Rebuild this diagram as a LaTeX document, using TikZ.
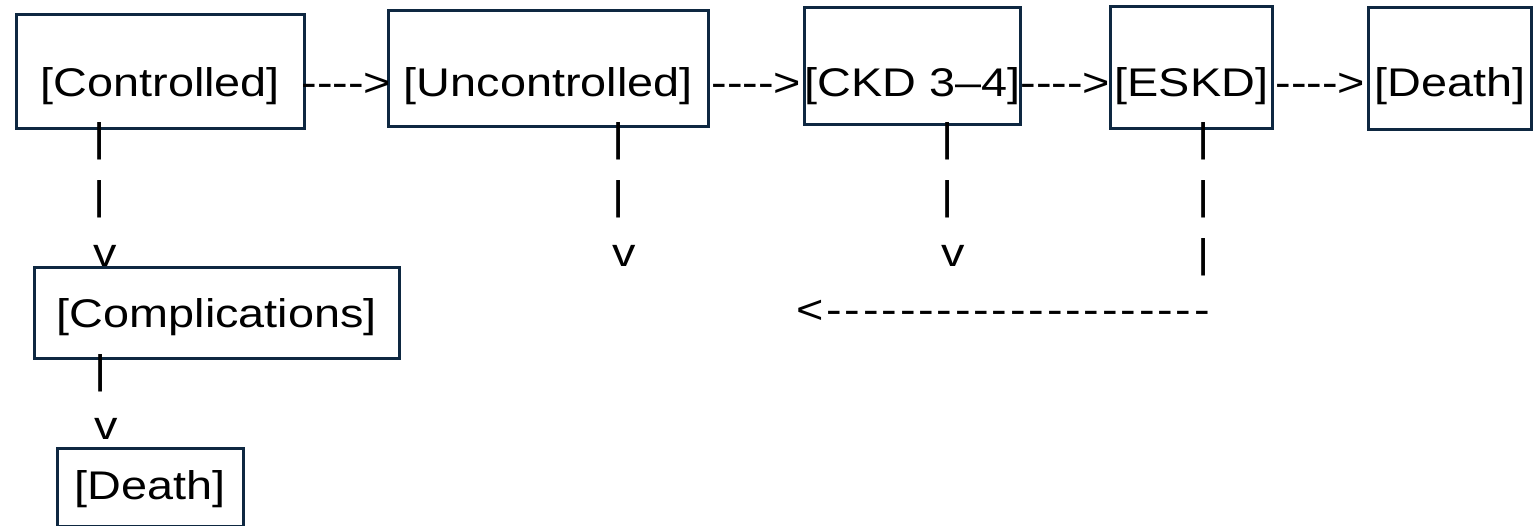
\documentclass[tikz,border=0pt]{standalone}
\usepackage{fontspec}
\setmainfont{Liberation Sans}[FakeStretch=1.17]
\usetikzlibrary{calc}
\definecolor{boxnavy}{RGB}{14,40,65}

\begin{document}
\begin{tikzpicture}[x=1pt,y=-1pt,
        stage/.style={draw=boxnavy, line width=2.7pt, inner xsep=0pt, inner ysep=0pt,
                      anchor=north west, font=\fontsize{40}{48}\selectfont},
        glyph/.style={inner sep=0pt, font=\fontsize{40}{48}\selectfont}]
        \useasboundingbox (0,0) rectangle (1540,526);
        % stages
        \node[stage, minimum width=288, text height=82, text depth=32] (ctrl) at (15,13) {[Controlled]};
        \node[stage, minimum width=320, text height=86, text depth=30] (unctrl) at (387,9) {[Uncontrolled]};
        \node[stage, minimum width=213, text height=89, text depth=28] (ckd) at (803,6) {[CKD 3--4]};
        \node[stage, minimum width=162, text height=90, text depth=32] (eskd) at (1109,5) {[ESKD]};
        \node[stage, minimum width=163, text height=89, text depth=33] (deathA) at (1367,6) {[Death]};
        \node[stage, minimum width=365, text height=60, text depth=31] (compl) at (33,266) {[Complications]};
        \node[stage, minimum width=186, text height=51, text depth=27] (deathB) at (56,447) {[Death]};
        % text arrows along the top row
        \node[glyph, anchor=base] (ar1) at ($(ctrl.base -| ctrl.east)!.5!(ctrl.base -| unctrl.west)$) {-{}-{}-{}->};
        \node[glyph, anchor=base] (ar2) at ($(ctrl.base -| unctrl.east)!.5!(ctrl.base -| ckd.west)$) {-{}-{}-{}->};
        \node[glyph, anchor=base] (ar3) at ($(ctrl.base -| ckd.east)!.5!(ctrl.base -| eskd.west)$) {-{}-{}-{}->};
        \node[glyph, anchor=base] (ar4) at ($(ctrl.base -| eskd.east)!.5!(ctrl.base -| deathA.west)$) {-{}-{}-{}->};
        % text arrows going down
        \foreach \cx/\nm in {93/cA, 612/cB, 941/cC} {
          \node[glyph, anchor=base west] (\nm bar1) at (\cx,152) {|};
          \node[glyph, anchor=base west] (\nm bar2) at (\cx,210) {|};
          \node[glyph, anchor=base west] (\nm tip) at (\cx,267) {v};
        }
        \foreach \cy/\nm in {152/eA, 210/eB, 268/eC}
          \node[glyph, anchor=base west] (\nm bar) at (1197,\cy) {|};
        \node[glyph, anchor=base east] (back) at (1210,324)
          {\addfontfeatures{LetterSpace=7}<{}-{}-{}-{}-{}-{}-{}-{}-{}-{}-{}-{}-{}-{}-{}-{}-{}-{}-{}-{}-{}-};
        \node[glyph, anchor=base west] (cDbar) at (94,384) {|};
        \node[glyph, anchor=base west] (cDtip) at (94,440) {v};
      \end{tikzpicture}
\end{document}
